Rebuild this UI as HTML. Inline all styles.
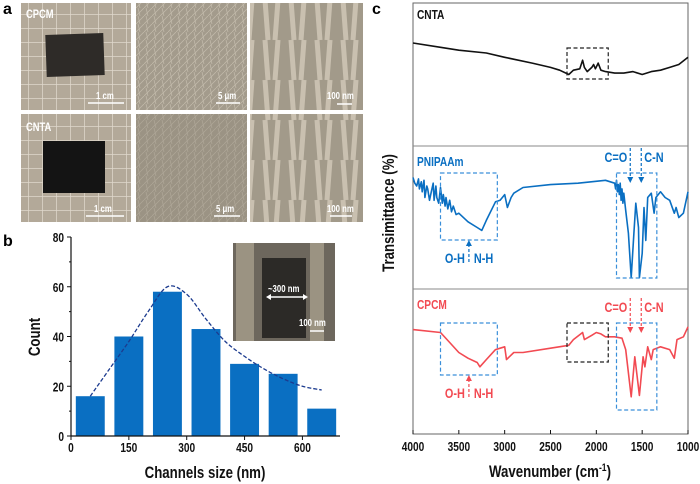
<!DOCTYPE html>
<html><head><meta charset="utf-8"><style>
body{margin:0;background:#fff;width:700px;height:484px;overflow:hidden;font-family:"Liberation Sans",sans-serif;}
svg{display:block}
text{font-family:"Liberation Sans",sans-serif;font-weight:bold}
</style></head><body>
<svg id="fig" width="700" height="484">
  <defs>
    <pattern id="grid" width="14" height="14" patternUnits="userSpaceOnUse"><rect width="14" height="14" fill="#b3a999"/><path d="M0 0H14M0 0V14" stroke="#e0d8cc" stroke-width="1.5"/></pattern>
    <pattern id="fib" width="8" height="8" patternUnits="userSpaceOnUse"><rect width="8" height="8" fill="#a39b8c"/><path d="M0 8L8 0M2 0L4 8" stroke="#c4bcad" stroke-width="0.7"/></pattern>
    <pattern id="fib2" width="26" height="40" patternUnits="userSpaceOnUse"><rect width="26" height="40" fill="#a29a8a"/><path d="M5 0L8 40M18 0L15 40" stroke="#c9c0b0" stroke-width="5"/></pattern>
  </defs>
  <text x="3" y="14" font-size="16">a</text>
  <g>
    <rect x="21" y="3" width="110" height="107" fill="url(#grid)"/>
    <rect x="46" y="34" width="58" height="42" fill="#2e2b28" transform="rotate(-2 75 55)"/>
    <text transform="translate(26 18) scale(0.78 1)" font-size="12" fill="#fff">CPCM</text>
    <line x1="88" y1="103" x2="124" y2="103" stroke="#fff" stroke-width="1.5"/>
    <text transform="translate(96 99) scale(0.78 1)" font-size="10" fill="#fff">1 cm</text>
  </g>
  <g>
    <rect x="136" y="3" width="111" height="107" fill="url(#fib)"/>
    <line x1="216" y1="103" x2="240" y2="103" stroke="#fff" stroke-width="1.5"/>
    <text transform="translate(218 99) scale(0.78 1)" font-size="10" fill="#fff">5 μm</text>
  </g>
  <g>
    <rect x="250" y="3" width="113" height="107" fill="url(#fib2)"/>
    <line x1="337" y1="104" x2="352" y2="104" stroke="#fff" stroke-width="1.5"/>
    <text transform="translate(327 99) scale(0.78 1)" font-size="10" fill="#fff">100 nm</text>
  </g>
  <g>
    <rect x="21" y="114" width="110" height="108" fill="url(#grid)"/>
    <rect x="43" y="141" width="62" height="52" fill="#141414"/>
    <text transform="translate(26 131) scale(0.78 1)" font-size="12" fill="#fff">CNTA</text>
    <line x1="86" y1="216" x2="124" y2="216" stroke="#fff" stroke-width="1.5"/>
    <text transform="translate(94 212) scale(0.78 1)" font-size="10" fill="#fff">1 cm</text>
  </g>
  <g>
    <rect x="136" y="114" width="111" height="108" fill="#8f8879"/>
    <rect x="136" y="114" width="111" height="108" fill="url(#fib)" opacity="0.6"/>
    <line x1="214" y1="216" x2="240" y2="216" stroke="#fff" stroke-width="1.5"/>
    <text transform="translate(216 212) scale(0.78 1)" font-size="10" fill="#fff">5 μm</text>
  </g>
  <g>
    <rect x="250" y="114" width="113" height="108" fill="url(#fib2)"/>
    <line x1="330" y1="216" x2="352" y2="216" stroke="#fff" stroke-width="1.5"/>
    <text transform="translate(327 212) scale(0.78 1)" font-size="10" fill="#fff">100 nm</text>
  </g>
  <text x="3" y="246" font-size="16">b</text>
  <g id="histo"></g>
  <text x="372" y="14" font-size="16">c</text>
  <g id="ftir"></g>
</svg>
<script>
// ---------- Panel b data ----------
const binCenters=[50,150,250,350,450,550,650];
const counts=[16,40,58,43,29,25,11];
const fitX=[50,100,150,200,250,300,350,400,450,500,550,600,650];
const fitY=[16,27,38,50,60,57,47,38,32,27,23,20,18.5];
const bXTicks=[0,150,300,450,600];
const bYTicks=[0,20,40,60,80];
// ---------- Panel c data ----------
const cXTicks=[4000,3500,3000,2500,2000,1500,1000];
const cntaW=[4000,3700,3500,3200,3000,2700,2500,2400,2300,2250,2180,2150,2130,2100,2050,2030,2010,1980,1950,1900,1800,1700,1600,1500,1400,1300,1200,1100,1000];
const cntaT=[72,69,67,65,62,58,55,53,50,53,54,60,55,52,55,57,54,58,53,52,51,51,52,50,52,53,55,57,62];
const pniW=[4000,3980,3960,3940,3930,3910,3900,3880,3870,3850,3840,3820,3800,3780,3770,3750,3740,3720,3700,3680,3670,3650,3640,3620,3600,3580,3560,3530,3500,3400,3300,3250,3200,3100,3050,3000,2970,2930,2900,2800,2500,2200,1900,1800,1790,1780,1770,1760,1750,1740,1730,1720,1710,1700,1680,1650,1620,1590,1570,1540,1530,1500,1480,1460,1440,1400,1370,1350,1300,1250,1200,1150,1130,1100,1050,1000];
const pniT=[78,74,72,77,70,75,68,76,64,72,70,62,68,74,62,72,64,60,71,60,66,58,64,56,62,54,58,52,53,47,43,41,48,61,62,66,57,64,67,71,73,74,76,74,70,76,68,73,66,74,62,70,60,67,55,39,8,39,60,43,8,25,57,34,64,67,53,64,68,64,62,53,57,50,53,68];
const cpcmW=[4000,3700,3600,3500,3400,3300,3270,3200,3100,3050,3000,2980,2950,2900,2800,2500,2300,2250,2150,2130,2050,2000,1950,1900,1800,1720,1680,1620,1580,1530,1490,1470,1440,1400,1380,1300,1200,1150,1120,1050,1000];
const cpcmT=[73,71,64,57,53,50,47,52,59,60,61,52,54,57,57,60,62,66,71,66,69,71,70,68,68,67,59,26,54,27,54,47,61,52,59,61,59,53,66,68,75];

const NS="http://www.w3.org/2000/svg";
function mk(parent,tag,attrs){const e=document.createElementNS(NS,tag);for(const k in attrs)e.setAttribute(k,attrs[k]);parent.appendChild(e);return e;}
function txt(parent,x,y,s,size,fill,anchor,rot){const t=mk(parent,'text',{x:0,y:0,'font-size':size,fill:fill||'#111','text-anchor':anchor||'start',transform:`translate(${x} ${y})${rot?' rotate(-90)':''} scale(0.78 1)`});t.textContent=s;return t;}

// ---------- Histogram ----------
const H=document.getElementById('histo');
const bx=v=>71+v*0.3857, by=v=>436-v*2.4875;
counts.forEach((c,i)=>{
  const r=mk(H,'rect',{x:bx(binCenters[i]-37.5),y:by(c),width:0.3857*75,height:by(0)-by(c),fill:'#0a6fc2'});
  
  
});
const inset=mk(H,'g',{});


mk(inset,'rect',{x:233,y:243,width:102,height:98,fill:'#6d675d'});
mk(inset,'rect',{x:262,y:258,width:44,height:80,fill:'#2c2a27'});
mk(inset,'rect',{x:236,y:243,width:18,height:98,fill:'#9b9382'});
mk(inset,'rect',{x:310,y:243,width:14,height:98,fill:'#9b9382'});
mk(inset,'line',{x1:268,y1:297,x2:306,y2:297,stroke:'#fff','stroke-width':1.5});
mk(inset,'path',{d:'M266 297l5-3v6zM308 297l-5-3v6z',fill:'#fff'});
txt(inset,268,292,'~300 nm',10,'#fff');
txt(inset,299,326,'100 nm',10,'#fff');
mk(inset,'line',{x1:310,y1:331,x2:324,y2:331,stroke:'#fff','stroke-width':1.5});
let pts=fitX.map((x,i)=>[bx(x),by(fitY[i])]);
let d='M'+pts[0][0]+' '+pts[0][1];
for(let i=0;i<pts.length-1;i++){const p0=pts[Math.max(0,i-1)],p1=pts[i],p2=pts[i+1],p3=pts[Math.min(pts.length-1,i+2)];
 d+=' C'+(p1[0]+(p2[0]-p0[0])/6)+' '+(p1[1]+(p2[1]-p0[1])/6)+' '+(p2[0]-(p3[0]-p1[0])/6)+' '+(p2[1]-(p3[1]-p1[1])/6)+' '+p2[0]+' '+p2[1];}
const fit=mk(H,'path',{d:d,fill:'none',stroke:'#1c3b8f','stroke-width':1.3,'stroke-dasharray':'4 2'});


const bax=mk(H,'path',{d:'M71 237V436H340',fill:'none',stroke:'#111','stroke-width':1.2});


bXTicks.forEach(v=>{mk(H,'line',{x1:bx(v),y1:436,x2:bx(v),y2:440,stroke:'#111'});const t=txt(H,bx(v),452,String(v),13,'#111','middle');});
bYTicks.forEach(v=>{mk(H,'line',{x1:67,y1:by(v),x2:71,y2:by(v),stroke:'#111'});const t=txt(H,64,by(v)+5,String(v),13,'#111','end');});
for(let v=10;v<80;v+=20)mk(H,'line',{x1:69,y1:by(v),x2:71,y2:by(v),stroke:'#111'});
const bxt=txt(H,205,478,'Channels size (nm)',17,'#111','middle');
const byt=txt(H,40,337,'Count',17,'#111','middle',true);

// ---------- FTIR ----------
const F=document.getElementById('ftir');
const cx=w=>413+(4000-w)*275/3000;
function series(W,T,bottom,color,name){
  const d=W.map((w,i)=>(i?'L':'M')+cx(w).toFixed(1)+' '+(bottom-T[i]*1.43).toFixed(1)).join(' ');
  const p=mk(F,'path',{d:d,fill:'none',stroke:color,'stroke-width':1.6,'stroke-linejoin':'round'});
  
  
}
const frame=mk(F,'rect',{x:413,y:3,width:275,height:431,fill:'none',stroke:'#666','stroke-width':1});

mk(F,'line',{x1:413,y1:146,x2:688,y2:146,stroke:'#888'});
mk(F,'line',{x1:413,y1:289,x2:688,y2:289,stroke:'#888'});
series(cntaW,cntaT,146,'#111','cnta-spectrum');
series(pniW,pniT,289,'#0a6fc2','pnipaam-spectrum');
series(cpcmW,cpcmT,434,'#f24a52','cpcm-spectrum');
function box(w1,w2,y1,y2,col,name){const r=mk(F,'rect',{x:cx(w1),y:y1,width:cx(w2)-cx(w1),height:y2-y1,fill:'none',stroke:col,'stroke-width':1.2,'stroke-dasharray':'4 2.5'});}
box(2320,1870,48,79,'#222','cnta-box');
box(3700,3080,173,240,'#3a8fd9','pnipaam-oh-box');
box(1780,1340,173,278,'#3a8fd9','pnipaam-co-box');
box(3700,3080,323,375,'#3a8fd9','cpcm-oh-box');
box(2320,1870,323,362,'#222','cpcm-black-box');
box(1780,1340,323,410,'#3a8fd9','cpcm-co-box');
function ann(col,ohY,coY){
  mk(F,'line',{x1:cx(3390),y1:ohY-14,x2:cx(3390),y2:ohY+6,stroke:col,'stroke-width':1.2,'stroke-dasharray':'3 2'});
  mk(F,'path',{d:`M${cx(3390)-3} ${ohY-12}l3 -6l3 6z`,fill:col});
  txt(F,cx(3390)-4,ohY+5,'O-H',14,col,'end');
  txt(F,cx(3390)+5,ohY+5,'N-H',14,col,'start');
  [1630,1510].forEach(w=>{mk(F,'line',{x1:cx(w),y1:coY-12,x2:cx(w),y2:coY+20,stroke:col,'stroke-width':1.2,'stroke-dasharray':'3 2'});mk(F,'path',{d:`M${cx(w)-3} ${coY+17}l3 6l3 -6z`,fill:col});});
  txt(F,cx(1630)-3,coY+2,'C=O',14,col,'end');
  txt(F,cx(1510)+3,coY+2,'C-N',14,col,'start');
}
ann('#0a6fc2',258,160);
ann('#f24a52',393,310);
const l1=txt(F,417,19,'CNTA',13,'#111');
const l2=txt(F,417,166,'PNIPAAm',13,'#0a6fc2');
const l3=txt(F,417,309,'CPCM',13,'#f24a52');
cXTicks.forEach(w=>{mk(F,'line',{x1:cx(w),y1:434,x2:cx(w),y2:430,stroke:'#111'});const t=txt(F,cx(w),451,String(w),13,'#111','middle');});
const cxt=mk(F,'text',{x:0,y:0,'font-size':17,fill:'#111','text-anchor':'middle',transform:'translate(550 477) scale(0.78 1)'});cxt.innerHTML='Wavenumber (cm<tspan dy="-6" font-size="11">-1</tspan><tspan dy="6">)</tspan>';

const cyt=txt(F,394,213,'Transimittance (%)',17,'#111','middle',true);
</script>
</body></html>
